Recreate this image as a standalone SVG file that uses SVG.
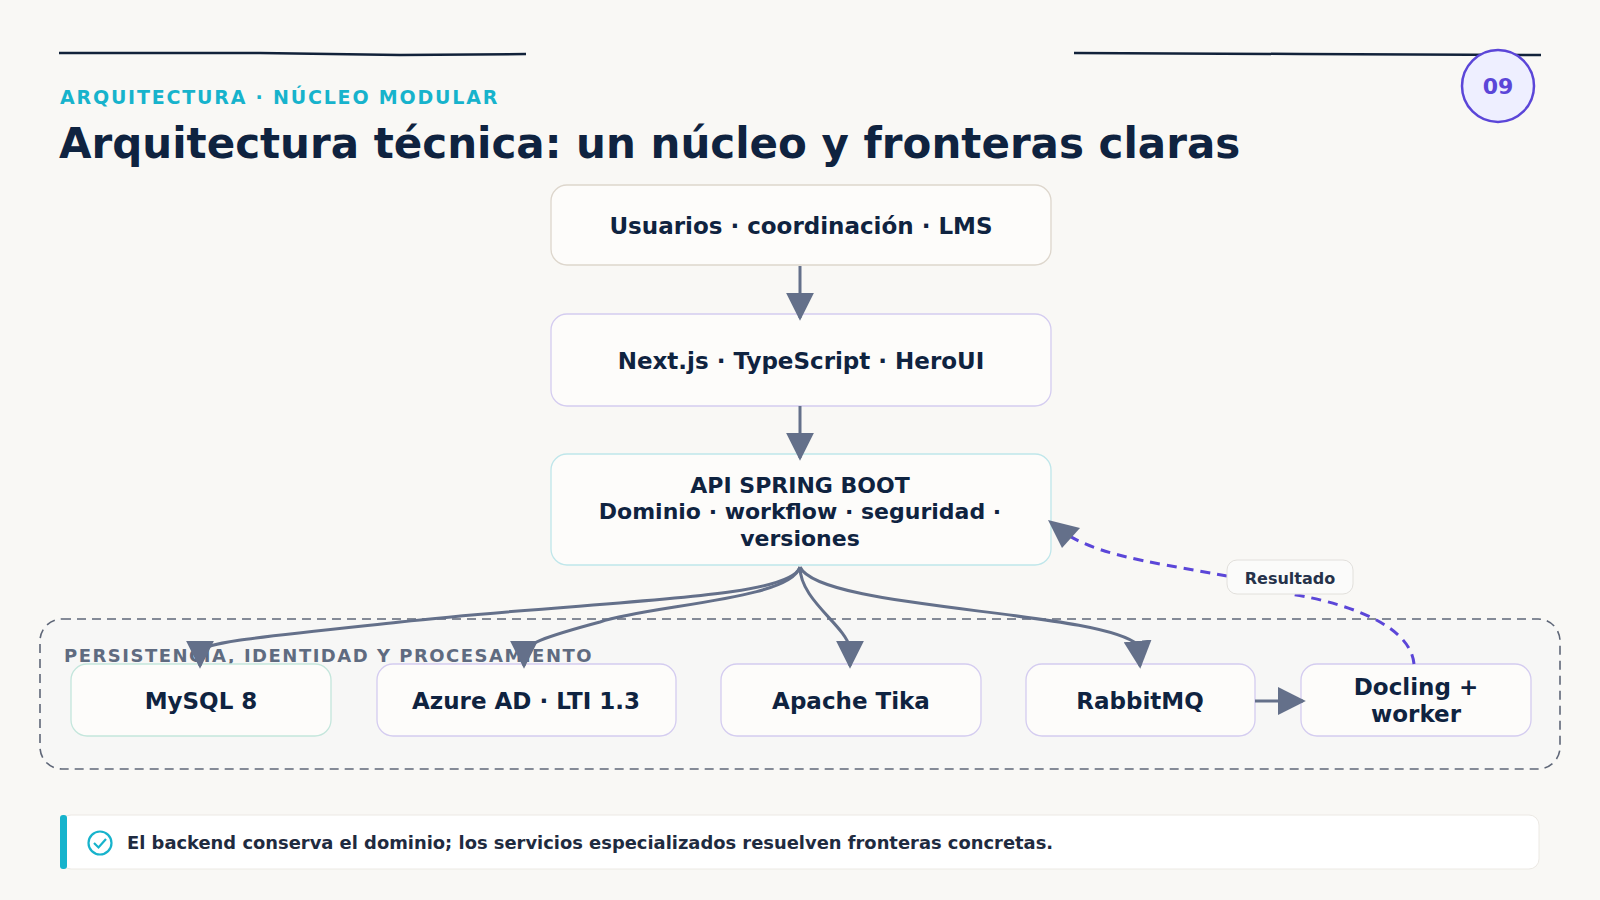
<svg xmlns="http://www.w3.org/2000/svg" width="1600" height="900" viewBox="0 0 1600 900">
<defs>
<style>
text{font-family:"DejaVu Sans","Noto Sans",sans-serif;font-weight:bold;fill:#0f2340}
.box{fill:#fdfcfa;stroke-width:1.3}
.nt{font-size:22px;text-anchor:middle}
.big{font-size:23px}
.edge{fill:none;stroke:#64708a;stroke-width:3}
</style>
<marker id="a2" viewBox="0 0 10 10" refX="9" refY="5" markerWidth="28" markerHeight="28" markerUnits="userSpaceOnUse" orient="auto">
<path d="M0,0 L10,5 L0,10 z" fill="#64708a"/>
</marker>
</defs>
<rect width="1600" height="900" fill="#f9f8f5"/>
<g id="header">
<path d="M59,53 L260,53 L400,55 L526,54" stroke="#12223a" stroke-width="2.5" fill="none"/>
<path d="M1074,53 L1300,54 L1541,55" stroke="#12223a" stroke-width="2.5" fill="none"/>
<circle cx="1498" cy="86" r="36" fill="#eeefff" stroke="#5b46d8" stroke-width="2.5"/>
<text x="1498" y="94" font-size="22" text-anchor="middle" style="fill:#5b46d8">09</text>
<text x="60" y="104" font-size="19" letter-spacing="1.8" style="fill:#17b3cc">ARQUITECTURA · NÚCLEO MODULAR</text>
<text x="59" y="158" font-size="42">Arquitectura técnica: un núcleo y fronteras claras</text>
</g>
<g id="group">
<rect x="40" y="619" width="1520" height="150" rx="22" fill="#f7f7f6" stroke="#5f6778" stroke-width="1.6" stroke-dasharray="9 6"/>
<text x="64" y="662" font-size="18" letter-spacing="1.5" style="fill:#5f6b80">PERSISTENCIA, IDENTIDAD Y PROCESAMIENTO</text>
</g>
<g id="n1"><rect class="box" x="551" y="185" width="500" height="80" rx="16" stroke="#ddd6cc"/><text class="nt big" x="801" y="234">Usuarios · coordinación · LMS</text></g>
<g id="n2"><rect class="box" x="551" y="314" width="500" height="92" rx="16" stroke="#d4ccf0"/><text class="nt big" x="801" y="369">Next.js · TypeScript · HeroUI</text></g>
<g id="n3"><rect class="box" x="551" y="454" width="500" height="111" rx="16" stroke="#bfe6ea"/>
<text class="nt" x="800" y="493">API SPRING BOOT</text><text class="nt" x="800" y="519">Dominio · workflow · seguridad ·</text><text class="nt" x="800" y="546">versiones</text></g>
<g id="n4"><rect class="box" x="71" y="664" width="260" height="72" rx="16" stroke="#c4e6dc"/><text class="nt big" x="201" y="709">MySQL 8</text></g>
<g id="n5"><rect class="box" x="377" y="664" width="299" height="72" rx="16" stroke="#d4ccf0"/><text class="nt big" x="526" y="709">Azure AD · LTI 1.3</text></g>
<g id="n6"><rect class="box" x="721" y="664" width="260" height="72" rx="16" stroke="#d4ccf0"/><text class="nt big" x="851" y="709">Apache Tika</text></g>
<g id="n7"><rect class="box" x="1026" y="664" width="229" height="72" rx="16" stroke="#d4ccf0"/><text class="nt big" x="1140" y="709">RabbitMQ</text></g>
<g id="n8"><rect class="box" x="1301" y="664" width="230" height="72" rx="16" stroke="#d4ccf0"/><text class="nt big" x="1416" y="695">Docling +</text><text class="nt big" x="1416" y="722">worker</text></g>
<g id="connectors">
<path class="edge" d="M800,266 L800,318" marker-end="url(#a2)"/>
<path class="edge" d="M800,406 L800,458" marker-end="url(#a2)"/>
<path class="edge" d="M800,567 C790,600 600,600 400,622 C250,638 205,642 200,652 L200,666" marker-end="url(#a2)"/>
<path class="edge" d="M800,567 C790,600 650,605 600,622 C540,638 526,645 524,652 L524,666" marker-end="url(#a2)"/>
<path class="edge" d="M800,567 C800,600 845,625 850,648 L850,666" marker-end="url(#a2)"/>
<path class="edge" d="M800,567 C820,610 1100,610 1138,645 L1140,666" marker-end="url(#a2)"/>
<path class="edge" d="M1255,701 L1303,701" marker-end="url(#a2)"/>
<path d="M1414,664 C1410,620 1330,600 1290,594 M1227,576 C1140,560 1090,555 1052,524" fill="none" stroke="#5b46d8" stroke-width="3" stroke-dasharray="10 7"/>
<path d="M1048,520 L1080,528 L1062,548 z" fill="#64708a"/>
<rect x="1227" y="560" width="126" height="34" rx="10" fill="#fbfbfa" stroke="#e2e0dc"/>
<text x="1290" y="584" font-size="16" text-anchor="middle" style="fill:#26324a">Resultado</text>
</g>
<g id="footer">
<rect x="61" y="815" width="1478" height="54" rx="10" fill="#ffffff" stroke="#ece9e4"/>
<rect x="60" y="815" width="7" height="54" rx="3" fill="#17b3cc"/>
<circle cx="100" cy="843" r="11.5" fill="none" stroke="#17b3cc" stroke-width="2.2"/>
<path d="M94,843 L98.5,847.5 L106,839" fill="none" stroke="#17b3cc" stroke-width="2.2"/>
<text x="127" y="849" font-size="17.9" style="fill:#1f2b40">El backend conserva el dominio; los servicios especializados resuelven fronteras concretas.</text>
</g>
</svg>
